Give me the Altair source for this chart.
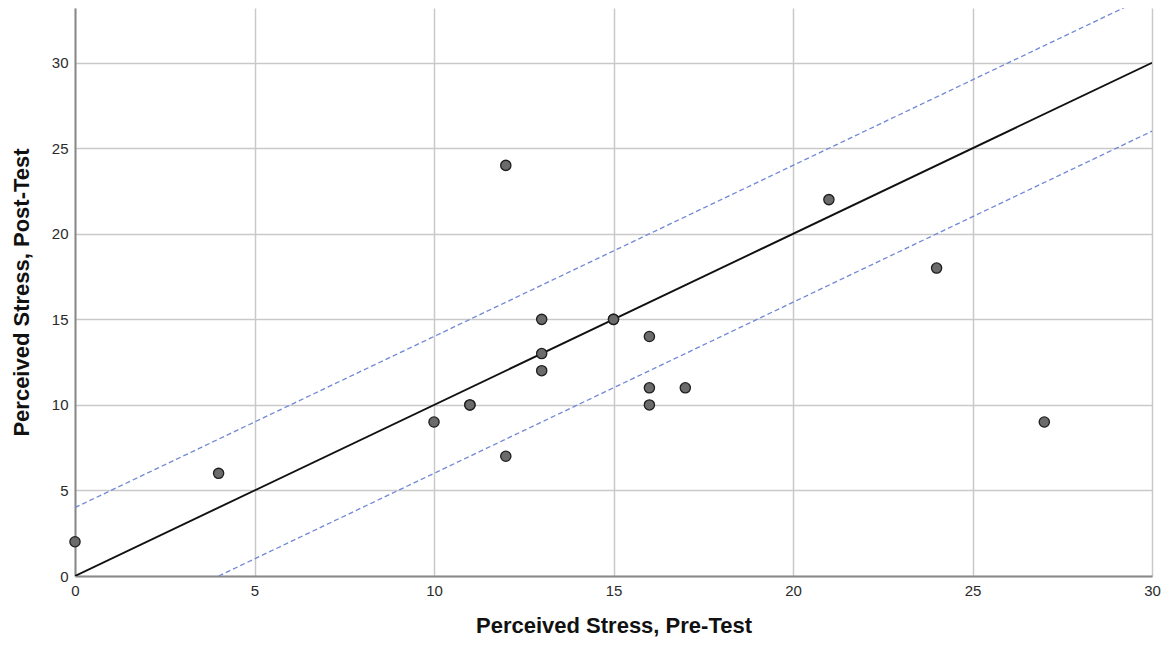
import altair as alt
import pandas as pd

pre = [0, 4, 10, 11, 11, 12, 12, 13, 13, 13, 15, 15, 16, 16, 16, 17, 21, 24, 27]
post = [2, 6, 9, 10, 10, 24, 7, 15, 13, 12, 15, 15, 14, 11, 10, 11, 22, 18, 9]

line_x = [0, 30, 0, 30, 4, 30]
line_y = [0, 30, 4, 34, 0, 26]
line_id = ["ref", "ref", "upper", "upper", "lower", "lower"]

tick_vals = [0, 5, 10, 15, 20, 25, 30]

pts = pd.DataFrame({"pre": pre, "post": post})
lines = pd.DataFrame({"x": line_x, "y": line_y, "id": line_id})

FONT = "Liberation Sans"
xs = alt.Scale(domain=[0, 30], nice=False, zero=False)
ys = alt.Scale(domain=[0, 33.2], nice=False, zero=False)

xax = alt.Axis(values=tick_vals, title="Perceived Stress, Pre-Test", titlePadding=17)
yax = alt.Axis(values=tick_vals, title="Perceived Stress, Post-Test", titlePadding=18)

band = alt.Chart(lines).transform_filter(alt.datum.id != "ref").mark_line(
    color="#7088d6", strokeWidth=1.3, strokeDash=[5, 3], clip=True
).encode(x=alt.X("x:Q", scale=xs, axis=xax), y=alt.Y("y:Q", scale=ys, axis=yax), detail="id:N")

ref = alt.Chart(lines).transform_filter(alt.datum.id == "ref").mark_line(
    color="#111", strokeWidth=1.9, clip=True
).encode(x=alt.X("x:Q", scale=xs, axis=xax), y=alt.Y("y:Q", scale=ys, axis=yax), detail="id:N")

points = alt.Chart(pts).mark_circle(size=105, opacity=1, color="#6b6b6b",
                                    stroke="#1e1e1e", strokeWidth=1.3).encode(
    x=alt.X("pre:Q", scale=xs, axis=xax), y=alt.Y("post:Q", scale=ys, axis=yax)
)

chart = alt.layer(band, ref, points).properties(
    width=1077, height=568,
    autosize=alt.AutoSizeParams(type="none"),
    padding={"left": 67, "top": 0, "right": 12, "bottom": 62},
    background="white",
).configure_view(stroke=None).configure_axis(
    titleFont=FONT, titleFontSize=22, titleFontWeight="bold", titleColor="#111",
    labelFont=FONT, labelFontSize=15, labelColor="#2a2a2a", labelPadding=7,
    ticks=False, grid=True, gridColor="#c9c9c9", gridWidth=1.5,
    domainColor="#8a8a8a", domainWidth=2, labelFlush=False,
)

chart.save("out.html", embed_options={"renderer": "svg", "actions": False})
